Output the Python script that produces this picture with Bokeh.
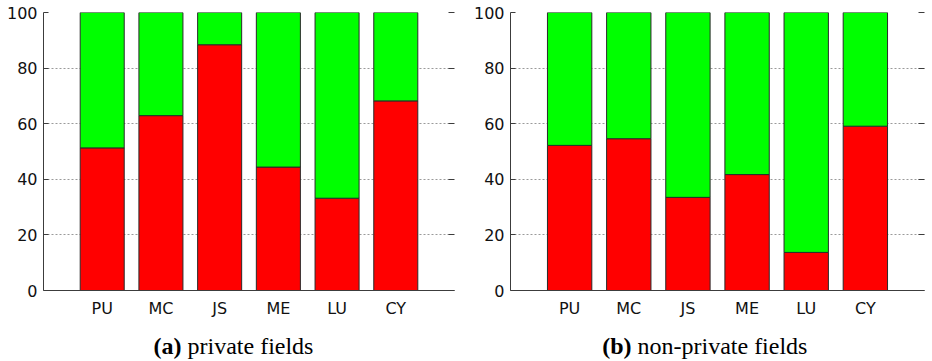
from bokeh.plotting import figure
from bokeh.layouts import column, row
from bokeh.models import (FactorRange, Range1d, LinearAxis, FixedTicker,
                          CustomJSTickFormatter, ColumnDataSource)
from bokeh.core.properties import value
from bokeh.embed import file_html
from bokeh.resources import INLINE

# ---- data ----
tools = ["PU", "MC", "JS", "ME", "LU", "CY"]
private_red = [51.3, 62.9, 88.4, 44.4, 33.2, 68.2]
private_green = [48.7, 37.1, 11.6, 55.6, 66.8, 31.8]
nonprivate_red = [52.2, 54.6, 33.5, 41.7, 13.7, 59.1]
nonprivate_green = [47.8, 45.4, 66.5, 58.3, 86.3, 40.9]
y_ticks = [0, 20, 40, 60, 80, 100]
caption_tags = ["(a)", "(b)"]
caption_texts = ["private fields", "non-private fields"]

RED = "#ff0000"
GREEN = "#00ff00"
AXIS = "#3c3c3c"


def panel(red, green, width, border_right):
    src = ColumnDataSource(dict(tools=tools, red=red, green=green))
    p = figure(x_range=FactorRange(*tools, range_padding=1 / 6,
                                   range_padding_units="percent"),
               y_range=Range1d(0, 100),
               width=width, height=323,
               min_border_left=43, min_border_right=border_right,
               min_border_top=12, min_border_bottom=33,
               output_backend="svg", toolbar_location=None,
               outline_line_color=None, background_fill_color="white",
               border_fill_color="white")
    p.title.visible = False
    p.vbar_stack(["red", "green"], x="tools", width=0.75, source=src,
                 fill_color=[RED, GREEN], line_color="#2a2a2a", line_width=1)
    ticker = FixedTicker(ticks=y_ticks)
    # left axis
    ya = p.yaxis[0]
    ya.ticker = ticker
    ya.major_tick_in = 5
    ya.major_tick_out = 0
    ya.minor_tick_line_color = None
    ya.axis_line_color = AXIS
    ya.major_tick_line_color = AXIS
    ya.major_label_text_font = "DejaVu Sans"
    ya.major_label_text_font_size = "16px"
    ya.major_label_text_color = "#111111"
    ya.major_label_standoff = 6
    ya.axis_label_standoff = 0
    # bottom axis
    xa = p.xaxis[0]
    xa.major_tick_line_color = None
    xa.axis_line_color = AXIS
    xa.major_label_text_font = "DejaVu Sans"
    xa.major_label_text_font_size = "16px"
    xa.major_label_text_color = "#111111"
    xa.major_label_standoff = 2
    xa.axis_label_standoff = 0
    # right ticks only
    ra = LinearAxis(ticker=ticker,
                    formatter=CustomJSTickFormatter(code="return ''"),
                    axis_line_color=None, major_tick_in=6, major_tick_out=0,
                    major_tick_line_color=AXIS, minor_tick_line_color=None,
                    major_label_standoff=0, axis_label_standoff=0)
    p.add_layout(ra, "right")
    # grid
    p.xgrid.grid_line_color = None
    p.ygrid.ticker = ticker
    p.ygrid.grid_line_color = "#9a9a9a"
    p.ygrid.grid_line_dash = "2 2"
    p.ygrid.grid_line_width = 1
    return p


p1 = panel(private_red, private_green, 467, 13)
p2 = panel(nonprivate_red, nonprivate_green, 465, 8)

cap = figure(width=932, height=38, x_range=Range1d(0, 932), y_range=Range1d(0, 38),
             x_axis_type=None, y_axis_type=None,
             output_backend="svg", toolbar_location=None,
             min_border=0, outline_line_color=None,
             background_fill_color="white", border_fill_color="white")
cap.title.visible = False
cap.grid.visible = False
cap.text(x=[181, 631], y=[16, 16], text=caption_tags, text_align="right",
         text_baseline="alphabetic", text_font=value("Liberation Serif"),
         text_font_style="bold", text_font_size="24px", text_color="#000000")
cap.text(x=[187, 637], y=[16, 16], text=caption_texts, text_align="left",
         text_baseline="alphabetic", text_font=value("Liberation Serif"),
         text_font_size="24px", text_color="#000000")

layout = column(row(p1, p2, spacing=0), cap, spacing=0)

open("out.html", "w").write(file_html(layout, INLINE))
